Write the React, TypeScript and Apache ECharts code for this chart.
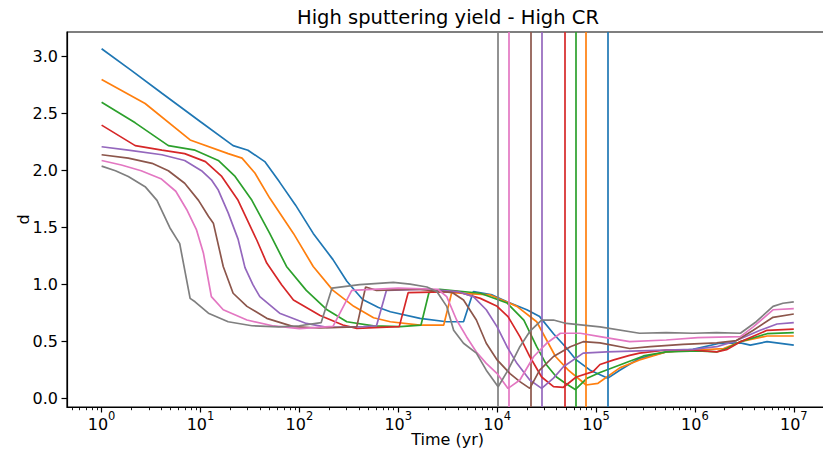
import React, { useEffect, useRef } from 'react';
import * as echarts from 'echarts';

const TITLE = 'High sputtering yield - High CR';
const X_LABEL = 'Time (yr)';
const Y_LABEL = 'd';
const X_TICK_EXPONENTS = [0, 1, 2, 3, 4, 5, 6, 7];
const Y_TICKS = [0, 0.5, 1, 1.5, 2, 2.5, 3];
const COLORS = ['#1f77b4', '#ff7f0e', '#2ca02c', '#d62728', '#9467bd', '#8c564b', '#e377c2', '#7f7f7f'];
const SERIES_NAMES = ['run 1', 'run 2', 'run 3', 'run 4', 'run 5', 'run 6', 'run 7', 'run 8'];

// points are [log10(time / yr), d]
const BLUE = [[0, 3.07], [0.3, 2.88], [0.61, 2.68], [1.0, 2.43], [1.33, 2.22], [1.48, 2.18], [1.65, 2.08], [1.8, 1.9], [1.96, 1.7], [2.14, 1.45], [2.34, 1.22], [2.48, 1.03], [2.64, 0.87], [2.8, 0.8], [2.92, 0.763], [3.22, 0.705], [3.49, 0.675], [3.66, 0.675], [3.76, 0.94], [3.95, 0.91], [4.1, 0.85], [4.3, 0.78], [4.43, 0.72], [4.57, 0.57], [4.69, 0.456], [4.8, 0.34], [4.94, 0.25], [5.12, 0.18], [5.24, 0.25], [5.44, 0.354], [5.71, 0.41], [5.98, 0.433], [6.25, 0.486], [6.46, 0.49], [6.56, 0.47], [6.73, 0.5], [7.0, 0.47]];
const ORANGE = [[0, 2.8], [0.44, 2.59], [0.895, 2.27], [1.28, 2.15], [1.42, 2.11], [1.55, 1.98], [1.7, 1.76], [1.94, 1.45], [2.14, 1.16], [2.34, 0.95], [2.55, 0.81], [2.75, 0.71], [2.92, 0.675], [3.22, 0.646], [3.46, 0.646], [3.54, 0.93], [3.93, 0.91], [4.2, 0.81], [4.4, 0.675], [4.5, 0.515], [4.59, 0.37], [4.72, 0.25], [4.84, 0.164], [4.9, 0.12], [5.02, 0.135], [5.24, 0.27], [5.44, 0.34], [5.71, 0.41], [6.03, 0.427], [6.29, 0.44], [6.46, 0.5], [6.73, 0.55], [7.0, 0.55]];
const GREEN = [[0, 2.6], [0.34, 2.42], [0.675, 2.22], [0.945, 2.18], [1.18, 2.09], [1.35, 1.95], [1.52, 1.74], [1.7, 1.45], [1.87, 1.16], [2.07, 0.95], [2.28, 0.78], [2.48, 0.675], [2.75, 0.638], [3.02, 0.632], [3.23, 0.646], [3.31, 0.93], [3.42, 0.96], [3.83, 0.925], [4.1, 0.84], [4.27, 0.69], [4.4, 0.456], [4.5, 0.296], [4.6, 0.19], [4.69, 0.135], [4.79, 0.08], [4.91, 0.18], [5.04, 0.23], [5.24, 0.296], [5.48, 0.375], [5.71, 0.41], [6.03, 0.42], [6.22, 0.41], [6.32, 0.44], [6.46, 0.5], [6.73, 0.57], [7.0, 0.58]];
const RED = [[0, 2.4], [0.34, 2.22], [0.61, 2.18], [0.84, 2.15], [1.05, 2.08], [1.215, 1.95], [1.38, 1.74], [1.57, 1.39], [1.67, 1.19], [1.82, 1.0], [1.94, 0.866], [2.21, 0.73], [2.44, 0.646], [2.58, 0.617], [2.82, 0.626], [3.01, 0.632], [3.1, 0.93], [3.59, 0.94], [3.83, 0.88], [4.0, 0.81], [4.11, 0.72], [4.23, 0.544], [4.33, 0.37], [4.45, 0.19], [4.57, 0.105], [4.67, 0.1], [4.8, 0.19], [4.97, 0.237], [5.04, 0.3], [5.18, 0.34], [5.34, 0.38], [5.44, 0.4], [5.71, 0.427], [5.98, 0.427], [6.22, 0.41], [6.32, 0.43], [6.46, 0.5], [6.73, 0.6], [7.0, 0.61]];
const PURPLE = [[0, 2.21], [0.27, 2.18], [0.61, 2.14], [0.84, 2.09], [1.01, 2.0], [1.11, 1.92], [1.18, 1.83], [1.28, 1.63], [1.38, 1.4], [1.45, 1.15], [1.53, 1.0], [1.6, 0.895], [1.8, 0.75], [2.07, 0.66], [2.28, 0.626], [2.65, 0.632], [2.78, 0.64], [2.88, 0.95], [3.3, 0.96], [3.6, 0.94], [3.76, 0.895], [3.89, 0.78], [4.0, 0.63], [4.1, 0.456], [4.2, 0.31], [4.33, 0.164], [4.45, 0.09], [4.57, 0.18], [4.67, 0.28], [4.87, 0.4], [5.11, 0.41], [5.44, 0.42], [5.71, 0.427], [5.98, 0.433], [6.22, 0.456], [6.39, 0.5], [6.66, 0.6], [6.83, 0.655], [7.0, 0.667]];
const BROWN = [[0, 2.14], [0.27, 2.11], [0.51, 2.065], [0.675, 2.0], [0.84, 1.89], [0.98, 1.74], [1.08, 1.6], [1.13, 1.54], [1.23, 1.16], [1.33, 0.925], [1.47, 0.81], [1.67, 0.705], [1.94, 0.632], [2.2, 0.62], [2.58, 0.63], [2.67, 0.98], [2.78, 0.95], [3.2, 0.96], [3.55, 0.93], [3.66, 0.866], [3.79, 0.69], [3.89, 0.486], [4.0, 0.34], [4.13, 0.22], [4.23, 0.15], [4.33, 0.09], [4.43, 0.25], [4.57, 0.37], [4.74, 0.456], [4.87, 0.5], [5.04, 0.49], [5.34, 0.44], [5.55, 0.456], [5.88, 0.477], [6.22, 0.49], [6.42, 0.51], [6.59, 0.6], [6.79, 0.714], [7.0, 0.743]];
const PINK = [[0, 2.09], [0.2, 2.05], [0.4, 2.0], [0.6, 1.93], [0.75, 1.82], [0.86, 1.66], [0.96, 1.48], [1.03, 1.275], [1.11, 0.895], [1.23, 0.78], [1.47, 0.69], [1.74, 0.638], [2.0, 0.615], [2.34, 0.635], [2.53, 0.95], [3.0, 0.97], [3.4, 0.96], [3.49, 0.895], [3.59, 0.69], [3.69, 0.544], [3.79, 0.41], [3.89, 0.31], [4.0, 0.22], [4.11, 0.09], [4.23, 0.164], [4.37, 0.37], [4.5, 0.486], [4.64, 0.574], [4.84, 0.574], [5.04, 0.544], [5.34, 0.5], [5.71, 0.515], [6.03, 0.535], [6.46, 0.544], [6.59, 0.63], [6.79, 0.78], [7.0, 0.79]];
const GRAY = [[0, 2.04], [0.14, 2.0], [0.27, 1.95], [0.44, 1.86], [0.56, 1.74], [0.69, 1.5], [0.79, 1.36], [0.895, 0.88], [0.945, 0.85], [1.08, 0.75], [1.28, 0.675], [1.52, 0.64], [1.79, 0.63], [2.0, 0.64], [2.22, 0.667], [2.33, 0.97], [2.61, 1.0], [2.95, 1.02], [3.12, 1.005], [3.29, 0.98], [3.39, 0.94], [3.49, 0.81], [3.56, 0.6], [3.66, 0.486], [3.79, 0.4], [3.89, 0.25], [4.01, 0.105], [4.11, 0.25], [4.23, 0.456], [4.33, 0.59], [4.45, 0.69], [4.57, 0.69], [4.7, 0.66], [5.04, 0.63], [5.44, 0.574], [5.71, 0.58], [5.98, 0.574], [6.22, 0.58], [6.46, 0.574], [6.62, 0.675], [6.79, 0.81], [6.89, 0.837], [7.0, 0.85]];
const SERIES_DATA = [BLUE, ORANGE, GREEN, RED, PURPLE, BROWN, PINK, GRAY];
// log10(time / yr) of the vertical marker of each run
const VLINE_LOGT = [5.12, 4.9, 4.79, 4.68, 4.45, 4.34, 4.12, 4.01];

const X_MIN = -0.35;
const X_MAX = 7.35;
const Y_MIN = -0.073;
const Y_MAX = 3.217;

const FONT = 'DejaVu Sans';

function minorTicks(): number[] {
  const out: number[] = [];
  for (let k = -1; k <= 7; k++) {
    for (let m = 2; m <= 9; m++) {
      const v = k + Math.log10(m);
      if (v > X_MIN && v < X_MAX) out.push(v);
    }
  }
  return out;
}

export default function App() {
  const ref = useRef<HTMLDivElement>(null);
  useEffect(() => {
    const chart = echarts.init(ref.current!, null, { renderer: 'svg' });
    const option: any = {
      animation: false,
      backgroundColor: '#ffffff',
      textStyle: { fontFamily: FONT },
      grid: {
        left: 67, top: 32, right: -5.4, bottom: 44,
        containLabel: false, outerBoundsMode: 'none',
        show: true, borderColor: '#000', borderWidth: 1.2, backgroundColor: 'transparent',
      },
      graphic: [
        {
          type: 'text', x: 448, y: 17, silent: true,
          style: {
            text: TITLE, fontSize: 19.5, fontFamily: FONT, fill: '#000',
            align: 'center', verticalAlign: 'middle', textAlign: 'center', textVerticalAlign: 'middle',
          },
        },
      ],
      xAxis: [
        {
          type: 'value', min: X_MIN, max: X_MAX, position: 'bottom',
          axisLine: { show: true, onZero: false, lineStyle: { color: '#000', width: 1.2 } },
          axisTick: { show: true, length: 5.5, lineStyle: { color: '#000', width: 1.2 }, customValues: X_TICK_EXPONENTS },
          axisLabel: {
            show: true, margin: 3, color: '#000', fontFamily: FONT,
            customValues: X_TICK_EXPONENTS,
            formatter: (v: number) => '{b|10}{s|' + Math.round(v) + '}',
            rich: {
              b: { fontSize: 16, fontFamily: FONT, color: '#000', lineHeight: 22, verticalAlign: 'bottom' },
              s: { fontSize: 11.5, fontFamily: FONT, color: '#000', lineHeight: 13, verticalAlign: 'top' },
            },
          },
          splitLine: { show: false },
          name: X_LABEL, nameLocation: 'middle', nameGap: 24, nameMoveOverlap: false,
          nameTextStyle: { color: '#000', fontSize: 16, fontFamily: FONT },
        },
        {
          type: 'value', min: X_MIN, max: X_MAX, position: 'bottom',
          axisLine: { show: false, onZero: false },
          axisTick: { show: true, length: 3.2, lineStyle: { color: '#000', width: 0.9 }, customValues: minorTicks() },
          axisLabel: { show: false },
          splitLine: { show: false },
        },
      ],
      yAxis: [
        {
          type: 'value', min: Y_MIN, max: Y_MAX,
          axisLine: { show: true, onZero: false, lineStyle: { color: '#000', width: 1.2 } },
          axisTick: { show: true, length: 5.5, lineStyle: { color: '#000', width: 1.2 }, customValues: Y_TICKS },
          axisLabel: {
            show: true, margin: 9, color: '#000', fontSize: 16, fontFamily: FONT,
            customValues: Y_TICKS,
            formatter: (v: number) => v.toFixed(1),
          },
          splitLine: { show: false },
          name: Y_LABEL, nameLocation: 'middle', nameGap: 36, nameRotate: 90, nameMoveOverlap: false,
          nameTextStyle: { color: '#000', fontSize: 16, fontFamily: FONT },
        },
      ],
      series: SERIES_DATA.map((d, i) => ({
        type: 'line',
        name: SERIES_NAMES[i],
        xAxisIndex: 0,
        yAxisIndex: 0,
        data: d,
        showSymbol: false,
        symbol: 'none',
        smooth: false,
        lineStyle: { color: COLORS[i], width: 1.7 },
        itemStyle: { color: COLORS[i] },
        z: 2 + i,
        markLine: {
          silent: true,
          symbol: ['none', 'none'],
          label: { show: false },
          lineStyle: { color: COLORS[i], width: 1.7, type: 'solid' },
          emphasis: { disabled: true },
          data: [{ xAxis: VLINE_LOGT[i] }],
        },
      })),
    };
    chart.setOption(option);
    return () => chart.dispose();
  }, []);
  return <div ref={ref} style={{ position: 'absolute', left: 0, top: 0, width: 823, height: 451 }} />;
}
